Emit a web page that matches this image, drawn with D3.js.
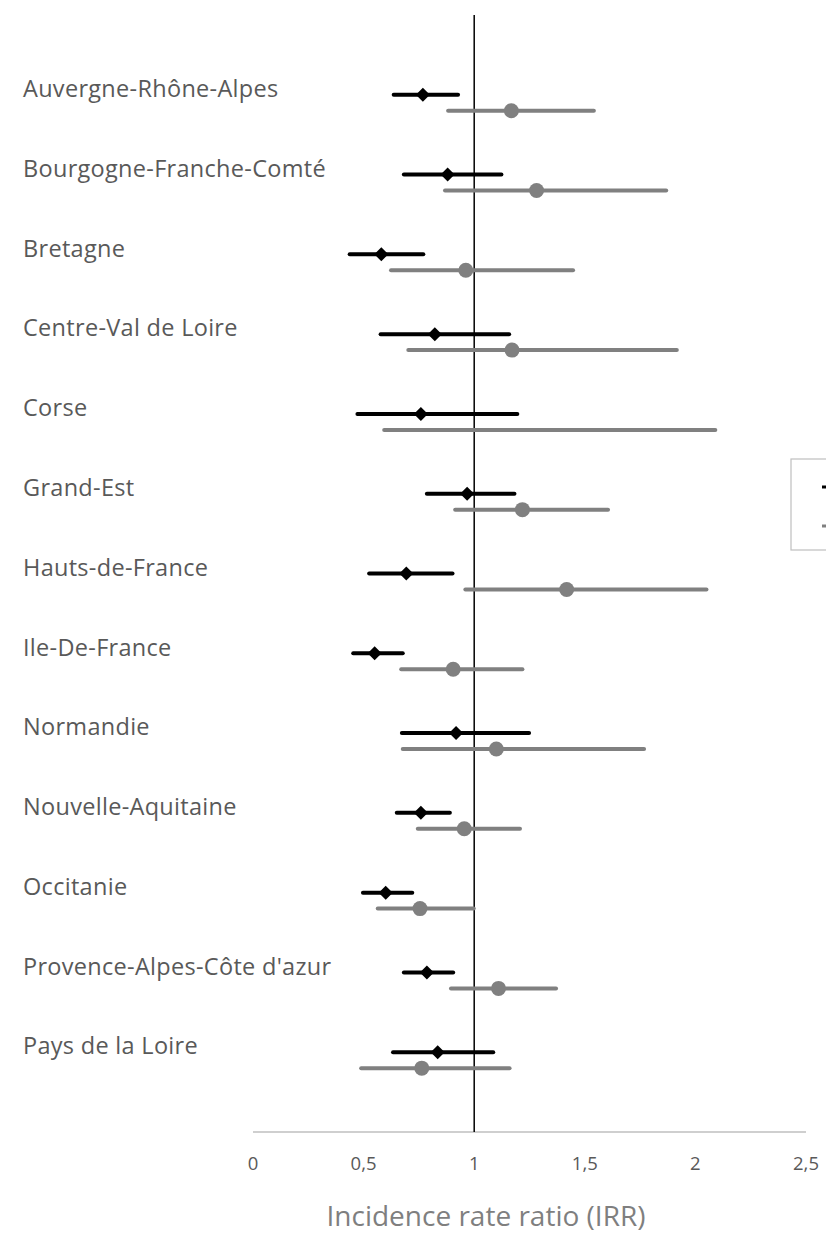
<!DOCTYPE html>
<html>
<head>
<meta charset="utf-8">
<script src="https://cdn.jsdelivr.net/npm/d3@7"></script>
<style>
  html, body { margin: 0; padding: 0; background: #fff; }
  svg { display: block; }
  text { font-family: "Open Sans", "Noto Sans", sans-serif; }
</style>
</head>
<body>
<svg id="chart" width="826" height="1240"></svg>
<script>
// ---- data ----
const regions = [
  "Auvergne-Rhône-Alpes", "Bourgogne-Franche-Comté", "Bretagne", "Centre-Val de Loire",
  "Corse", "Grand-Est", "Hauts-de-France", "Ile-De-France", "Normandie",
  "Nouvelle-Aquitaine", "Occitanie", "Provence-Alpes-Côte d'azur", "Pays de la Loire"
];
// series 1 (black diamonds)
const irr1   = [0.768, 0.880, 0.580, 0.822, 0.759, 0.968, 0.693, 0.550, 0.918, 0.759, 0.600, 0.786, 0.835];
const low1   = [0.636, 0.682, 0.437, 0.577, 0.472, 0.786, 0.525, 0.453, 0.673, 0.650, 0.497, 0.682, 0.633];
const high1  = [0.927, 1.123, 0.770, 1.158, 1.195, 1.182, 0.902, 0.677, 1.248, 0.890, 0.720, 0.905, 1.086];
// series 2 (grey circles)
const irr2   = [1.168, 1.282, 0.962, 1.171, null,  1.218, 1.418, 0.905, 1.100, 0.955, 0.755, 1.110, 0.763];
const low2   = [0.882, 0.868, 0.624, 0.702, 0.593, 0.914, 0.960, 0.670, 0.677, 0.745, 0.564, 0.895, 0.489];
const high2  = [1.541, 1.868, 1.447, 1.916, 2.090, 1.605, 2.050, 1.218, 1.768, 1.207, 0.998, 1.370, 1.160];
const xTicks = [0, 0.5, 1, 1.5, 2, 2.5];
const xTickLabels = ["0", "0,5", "1", "1,5", "2", "2,5"];
const xTitle = "Incidence rate ratio (IRR)";

// ---- layout ----
const svg = d3.select("#chart");
const x = d3.scaleLinear().domain([0, 2.5]).range([253, 806]);
const y = d3.scaleLinear().domain([0, 14]).range([1132, 15]);
const rowVal = i => regions.length - i;   // 13 .. 1
const off2 = -0.2;

// axis line (horizontal)
svg.append("line")
  .attr("x1", x(0)).attr("x2", x(2.5))
  .attr("y1", y(0)).attr("y2", y(0))
  .attr("stroke", "#bfbfbf").attr("stroke-width", 1.5);

// reference vertical line at IRR = 1
svg.append("line")
  .attr("x1", x(1)).attr("x2", x(1))
  .attr("y1", y(14)).attr("y2", y(0))
  .attr("stroke", "#000").attr("stroke-width", 1.5);

// tick labels
svg.append("g").selectAll("text").data(xTicks).join("text")
  .attr("x", d => x(d)).attr("y", 1165)
  .attr("text-anchor", "middle").attr("dominant-baseline", "middle")
  .attr("font-size", 18.5).attr("fill", "#595959")
  .text((d, i) => xTickLabels[i]);

// axis title
svg.append("text")
  .attr("x", 486).attr("y", 1219)
  .attr("text-anchor", "middle").attr("dominant-baseline", "middle")
  .attr("font-size", 28).attr("fill", "#7f7f7f")
  .text(xTitle);

// category labels
svg.append("g").selectAll("text").data(regions).join("text")
  .attr("x", 23).attr("y", (d, i) => y(rowVal(i)) - 4)
  .attr("dominant-baseline", "middle")
  .attr("font-size", 23.5).attr("letter-spacing", 0.3).attr("fill", "#595959")
  .text(d => d);

// series 2 (grey) error bars + circles
const g2 = svg.append("g");
g2.selectAll("line").data(regions).join("line")
  .attr("x1", (d, i) => x(low2[i])).attr("x2", (d, i) => x(high2[i]))
  .attr("y1", (d, i) => y(rowVal(i) + off2)).attr("y2", (d, i) => y(rowVal(i) + off2))
  .attr("stroke", "#808080").attr("stroke-width", 4).attr("stroke-linecap", "round");
g2.selectAll("circle").data(regions.map((d, i) => i).filter(i => irr2[i] != null)).join("circle")
  .attr("cx", i => x(irr2[i])).attr("cy", i => y(rowVal(i) + off2))
  .attr("r", 7.5).attr("fill", "#808080");

// series 1 (black) error bars + diamonds
const g1 = svg.append("g");
g1.selectAll("line").data(regions).join("line")
  .attr("x1", (d, i) => x(low1[i])).attr("x2", (d, i) => x(high1[i]))
  .attr("y1", (d, i) => y(rowVal(i))).attr("y2", (d, i) => y(rowVal(i)))
  .attr("stroke", "#000").attr("stroke-width", 4).attr("stroke-linecap", "round");
const diamond = d3.symbol().type(d3.symbolDiamond2).size(125);
g1.selectAll("path").data(regions).join("path")
  .attr("d", diamond)
  .attr("transform", (d, i) => `translate(${x(irr1[i])},${y(rowVal(i))})`)
  .attr("fill", "#000");

// legend (mostly outside the visible area)
const lg = svg.append("g");
lg.append("rect").attr("x", 791).attr("y", 459).attr("width", 120).attr("height", 91)
  .attr("fill", "#fff").attr("stroke", "#bfbfbf").attr("stroke-width", 1.2);
lg.append("line").attr("x1", 822).attr("x2", 850).attr("y1", 487).attr("y2", 487)
  .attr("stroke", "#000").attr("stroke-width", 3);
lg.append("line").attr("x1", 822).attr("x2", 850).attr("y1", 526).attr("y2", 526)
  .attr("stroke", "#808080").attr("stroke-width", 3);
</script>
</body>
</html>
